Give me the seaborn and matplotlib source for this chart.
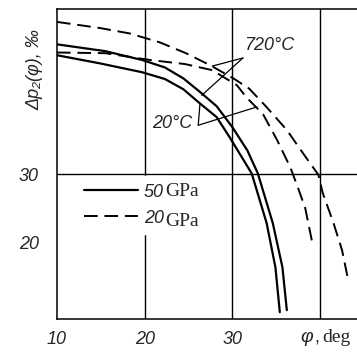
import matplotlib
matplotlib.use("Agg")
import matplotlib.pyplot as plt
import seaborn as sns
from matplotlib.lines import Line2D

# values (phi in deg, delta p2 in per mille)
phi_50_720 = [10, 15.5, 19.7, 22.3, 24.4, 26.3, 28.2, 30.0, 31.7, 32.9, 34.6, 35.7, 36.2]
dp_50_720 = [49.1, 48.1, 46.8, 45.7, 44.1, 42.1, 40.0, 36.9, 33.5, 30.1, 22.8, 16.3, 10.0]

phi_50_20 = [10, 14.9, 19.7, 22.3, 24.4, 26.3, 28.2, 29.7, 32.2, 33.9, 34.9, 35.4]
dp_50_20 = [47.5, 46.3, 45.0, 44.0, 42.5, 40.4, 38.4, 35.4, 30.1, 22.8, 16.3, 9.7]

phi_20_720 = [10, 14.9, 18.3, 21.7, 24.7, 27.5, 30.1, 31.9, 33.8, 36.2, 38.2, 39.8, 40.3, 41.5, 42.5, 43.2]
dp_20_720 = [52.4, 51.5, 50.7, 49.4, 47.8, 46.0, 44.1, 42.6, 40.0, 36.5, 32.8, 29.9, 27.2, 22.9, 18.8, 14.4]

phi_20_20 = [10, 15.5, 20.6, 24.6, 27.7, 30.5, 31.6, 33.5, 35.1, 36.6, 37.5, 38.3, 39.2]
dp_20_20 = [47.9, 47.8, 46.8, 46.2, 45.3, 43.1, 41.3, 38.8, 35.0, 31.0, 27.9, 25.0, 19.3]

x_ticks = [10, 20, 30, 40]
x_labels = ["10", "20", "30", ""]
y_ticks = [20, 30]
legend_numbers = ["50", "20"]

sns.set_style("white")
plt.rcParams["font.family"] = ["Liberation Sans", "DejaVu Sans"]

fig = plt.figure(figsize=(3.57, 3.56), dpi=100)
ax = fig.add_axes([57 / 357, 1 - 319 / 356, 300 / 357, 310 / 356])

dash = (0, (7, 3.5))
sns.lineplot(x=phi_50_720, y=dp_50_720, ax=ax, color="k", lw=1.6)
sns.lineplot(x=phi_50_20, y=dp_50_20, ax=ax, color="k", lw=1.6)
sns.lineplot(x=phi_20_720, y=dp_20_720, ax=ax, color="k", lw=1.4, linestyle=dash)
sns.lineplot(x=phi_20_20, y=dp_20_20, ax=ax, color="k", lw=1.4, linestyle=dash)

ax.set_xlim(10, 44.2)
ax.set_ylim(8.7, 54.3)
ax.set_xticks(x_ticks)
ax.set_xticklabels(x_labels)
ax.set_yticks(y_ticks)
ax.tick_params(length=0, labelsize=13)
ax.tick_params(axis="x", pad=9)
ax.tick_params(axis="y", pad=13)
for lab in ax.get_xticklabels() + ax.get_yticklabels():
    lab.set_fontstyle("italic")

ax.grid(False)
for x in [20, 30, 40]:
    ax.axvline(x, color="k", lw=1.0, zorder=1)
ax.axhline(30, color="k", lw=1.0, zorder=1)
for s in ["left", "bottom", "top"]:
    ax.spines[s].set_color("k")
    ax.spines[s].set_linewidth(1.1)
ax.spines["right"].set_visible(False)

# temperature labels with leader lines
ax.text(31.3, 48.9, "720°C", fontsize=13, fontstyle="italic", ha="left", va="center")
ax.plot([31.2, 27.7], [47.1, 45.9], color="k", lw=0.9)
ax.plot([31.2, 26.5], [47.1, 41.6], color="k", lw=0.9)
ax.text(25.4, 37.5, "20°C", fontsize=13, fontstyle="italic", ha="right", va="center")
ax.plot([26.1, 26.3], [37.2, 40.4], color="k", lw=0.9)
ax.plot([26.1, 32.8], [37.2, 39.9], color="k", lw=0.9)

handles = [Line2D([], [], color="k", lw=1.6),
           Line2D([], [], color="k", lw=1.4, linestyle=dash)]
leg = ax.legend(handles, legend_numbers, loc="upper left",
                bbox_to_anchor=(0.067, 0.46), borderaxespad=0, frameon=True,
                fontsize=13, handlelength=3.0, handletextpad=0.3,
                labelspacing=0.5, borderpad=0.4)
leg.get_frame().set_facecolor("white")
leg.get_frame().set_edgecolor("white")
leg.get_frame().set_alpha(1)
for t in leg.get_texts():
    t.set_fontstyle("italic")
for yy in [192, 221]:
    fig.text(165 / 357, 1 - yy / 356, "GPa", fontsize=14, family="Liberation Serif",
             ha="left", va="center", zorder=10)

fig.text(35 / 357, 1 - 70 / 356, "Δp₂(φ), ‰", rotation=90, fontsize=13,
         fontstyle="italic", ha="center", va="center")
fig.text(300 / 357, 1 - 338 / 356, "φ", fontsize=14, fontstyle="italic", ha="left", va="center")
fig.text(314 / 357, 1 - 338 / 356, ",", fontsize=13, ha="left", va="center")
fig.text(322 / 357, 1 - 337 / 356, "deg", fontsize=14, family="Liberation Serif",
         ha="left", va="center")

fig.savefig("out.png", dpi=100)
